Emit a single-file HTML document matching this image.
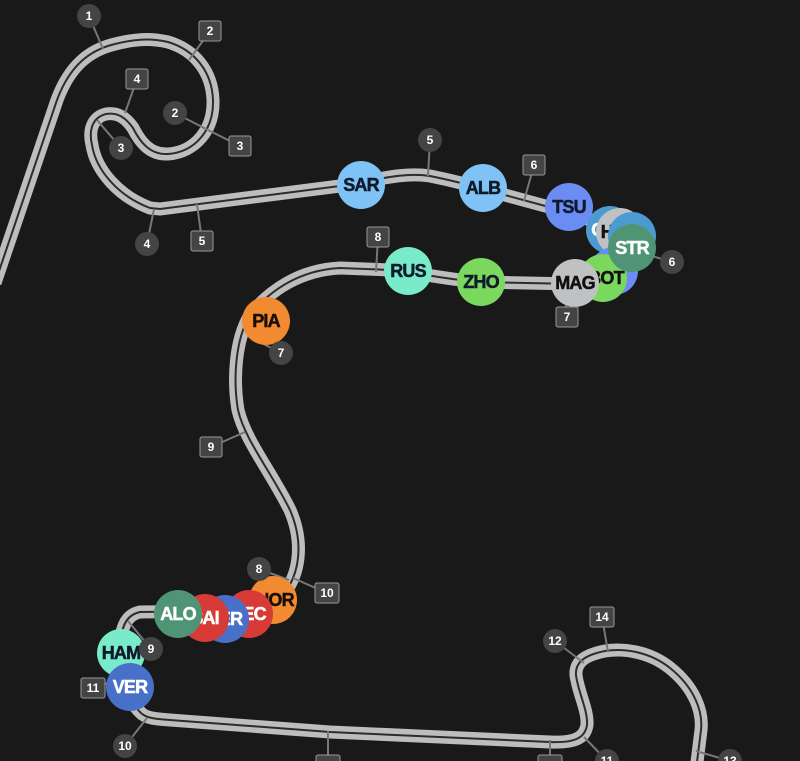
<!DOCTYPE html>
<html><head><style>
html,body{margin:0;padding:0;background:#1a1919;}
svg{display:block;}
.t{font-family:"Liberation Sans",sans-serif;font-weight:bold;}
</style></head><body>
<svg width="800" height="761" viewBox="0 0 800 761" xmlns="http://www.w3.org/2000/svg">
<rect width="800" height="761" fill="#1a1919"/>
<defs>
<path id="trk" d="M-5,283 L57,100 C70,65 90,50 115,44 C135,39 150,38 168,42 C195,50 212,72 213,100 C214,130 195,152 168,154 C150,155 140,142 133,128 C126,118 118,112 106,114 C94,117 88,128 92,145 C96,170 118,196 150,208 L160,209 L340,186 C380,179 405,172 430,176 C450,180 470,185 490,191 L560,210 C600,222 625,232 632,250 C636,265 625,278 600,283 L575,284 L480,282 C450,280 420,273 390,270 L340,268 C300,270 270,290 250,315 C235,340 233,380 238,410 C245,440 270,470 290,510 C305,545 298,575 285,592 C275,605 255,610 225,611 L140,612 C125,615 120,630 121,650 C122,680 128,700 140,712 C145,718 155,719 170,720 L330,732 L550,742 C575,743 585,738 587,725 C588,710 578,692 576,675 C575,662 585,655 605,651 C625,648 650,652 670,668 C695,688 703,712 701,730 L696,770"/>
</defs>
<use href="#trk" fill="none" stroke="#bdbdbd" stroke-width="13" stroke-linejoin="round"/>
<use href="#trk" fill="none" stroke="#2c2c2c" stroke-width="2"/>
<g stroke="#777" stroke-width="2">
<line x1="89" y1="16" x2="103" y2="49"/>
<line x1="210" y1="31" x2="189" y2="60"/>
<line x1="137" y1="79" x2="125" y2="113"/>
<line x1="175" y1="113" x2="208" y2="130"/>
<line x1="240" y1="146" x2="208" y2="130"/>
<line x1="121" y1="148" x2="97" y2="120"/>
<line x1="147" y1="244" x2="154" y2="209"/>
<line x1="202" y1="241" x2="197" y2="204"/>
<line x1="430" y1="140" x2="428" y2="176"/>
<line x1="534" y1="165" x2="524" y2="201"/>
<line x1="672" y1="262" x2="632" y2="250"/>
<line x1="378" y1="237" x2="376" y2="272"/>
<line x1="567" y1="317" x2="565" y2="290"/>
<line x1="281" y1="353" x2="248" y2="336"/>
<line x1="211" y1="447" x2="245" y2="432"/>
<line x1="259" y1="569" x2="289" y2="580"/>
<line x1="327" y1="593" x2="293" y2="578"/>
<line x1="151" y1="649" x2="128" y2="621"/>
<line x1="93" y1="688" x2="129" y2="676"/>
<line x1="125" y1="746" x2="147" y2="718"/>
<line x1="328" y1="761" x2="328" y2="731"/>
<line x1="555" y1="641" x2="584" y2="663"/>
<line x1="602" y1="617" x2="608" y2="652"/>
<line x1="550" y1="761" x2="550" y2="740"/>
<line x1="607" y1="761" x2="584" y2="737"/>
<line x1="730" y1="761" x2="696" y2="751"/>
</g>
<g class="t" font-size="18" text-anchor="middle" letter-spacing="-0.8" stroke-width="0.5">
<circle cx="361" cy="185" r="24" fill="#7ec2f6"/><text x="361" y="191" fill="#0f1a2a" stroke="#0f1a2a">SAR</text>
<circle cx="483" cy="188" r="24" fill="#7ec2f6"/><text x="483" y="194" fill="#0f1a2a" stroke="#0f1a2a">ALB</text>
<circle cx="569" cy="207" r="24" fill="#6b8cf2"/><text x="569" y="213" fill="#0f1a2a" stroke="#0f1a2a">TSU</text>
<circle cx="610" cy="230" r="24" fill="#4b9bd2"/><text x="604" y="236" fill="#fff" stroke="#fff">OC</text>
<circle cx="620" cy="232" r="24" fill="#c0c1c3"/><text x="618" y="238" fill="#111" stroke="#111">HUL</text>
<circle cx="632" cy="236" r="24" fill="#4b9bd2"/>
<circle cx="614" cy="271" r="24" fill="#6b8cf2"/>
<circle cx="603" cy="278" r="24" fill="#7bd85f"/><text x="606" y="284" fill="#111" stroke="#111">BOT</text>
<circle cx="632" cy="248" r="24" fill="#4f9475"/><text x="632" y="254" fill="#fff" stroke="#fff">STR</text>
<circle cx="575" cy="283" r="24" fill="#c0c1c3"/><text x="575" y="289" fill="#111" stroke="#111">MAG</text>
<circle cx="408" cy="271" r="24" fill="#79ebcb"/><text x="408" y="277" fill="#0f1a2a" stroke="#0f1a2a">RUS</text>
<circle cx="481" cy="282" r="24" fill="#7bd85f"/><text x="481" y="288" fill="#0f1a2a" stroke="#0f1a2a">ZHO</text>
<circle cx="266" cy="321" r="24" fill="#f18a31"/><text x="266" y="327" fill="#1a0f05" stroke="#1a0f05">PIA</text>
<circle cx="273" cy="600" r="24" fill="#f18a31"/><text x="275" y="606" fill="#1a0f05" stroke="#1a0f05">NOR</text>
<circle cx="249" cy="614" r="24" fill="#d83a36"/><text x="249" y="620" fill="#fff" stroke="#fff">LEC</text>
<circle cx="225" cy="619" r="24" fill="#4870c9"/><text x="225" y="625" fill="#fff" stroke="#fff">PER</text>
<circle cx="205" cy="618" r="24" fill="#d83a36"/><text x="205" y="624" fill="#fff" stroke="#fff">SAI</text>
<circle cx="178" cy="614" r="24" fill="#4f9475"/><text x="178" y="620" fill="#fff" stroke="#fff">ALO</text>
<circle cx="121" cy="653" r="24" fill="#79ebcb"/><text x="121" y="659" fill="#0f1a2a" stroke="#0f1a2a">HAM</text>
<circle cx="130" cy="687" r="24" fill="#4870c9"/><text x="130" y="693" fill="#fff" stroke="#fff">VER</text>
</g>
<g class="t" font-size="12" text-anchor="middle" fill="#fff">
<g fill="#444"><circle cx="89" cy="16" r="12"/><circle cx="175" cy="113" r="12"/><circle cx="121" cy="148" r="12"/><circle cx="147" cy="244" r="12"/><circle cx="430" cy="140" r="12"/><circle cx="672" cy="262" r="12"/><circle cx="281" cy="353" r="12"/><circle cx="259" cy="569" r="12"/><circle cx="151" cy="649" r="12"/><circle cx="125" cy="746" r="12"/><circle cx="555" cy="641" r="12"/><circle cx="607" cy="761" r="12"/><circle cx="730" cy="761" r="12"/></g>
<text x="89" y="20">1</text><text x="175" y="117">2</text><text x="121" y="152">3</text><text x="147" y="248">4</text><text x="430" y="144">5</text><text x="672" y="266">6</text><text x="281" y="357">7</text><text x="259" y="573">8</text><text x="151" y="653">9</text><text x="125" y="750">10</text><text x="555" y="645">12</text><text x="607" y="765">11</text><text x="730" y="765">13</text>
</g>
<g class="t" font-size="12" text-anchor="middle">
<g fill="#444" stroke="#999" stroke-width="1">
<rect x="199" y="21" width="22" height="20" rx="2"/><rect x="126" y="69" width="22" height="20" rx="2"/><rect x="229" y="136" width="22" height="20" rx="2"/><rect x="191" y="231" width="22" height="20" rx="2"/><rect x="523" y="155" width="22" height="20" rx="2"/><rect x="367" y="227" width="22" height="20" rx="2"/><rect x="556" y="307" width="22" height="20" rx="2"/><rect x="200" y="437" width="22" height="20" rx="2"/><rect x="315" y="583" width="24" height="20" rx="2"/><rect x="81" y="678" width="24" height="20" rx="2"/><rect x="590" y="607" width="24" height="20" rx="2"/><rect x="316" y="755" width="24" height="20" rx="2"/><rect x="538" y="755" width="24" height="20" rx="2"/>
</g>
<g fill="#fff">
<text x="210" y="35">2</text><text x="137" y="83">4</text><text x="240" y="150">3</text><text x="202" y="245">5</text><text x="534" y="169">6</text><text x="378" y="241">8</text><text x="567" y="321">7</text><text x="211" y="451">9</text><text x="327" y="597">10</text><text x="93" y="692">11</text><text x="602" y="621">14</text>
</g>
</g>
</svg>
</body></html>
